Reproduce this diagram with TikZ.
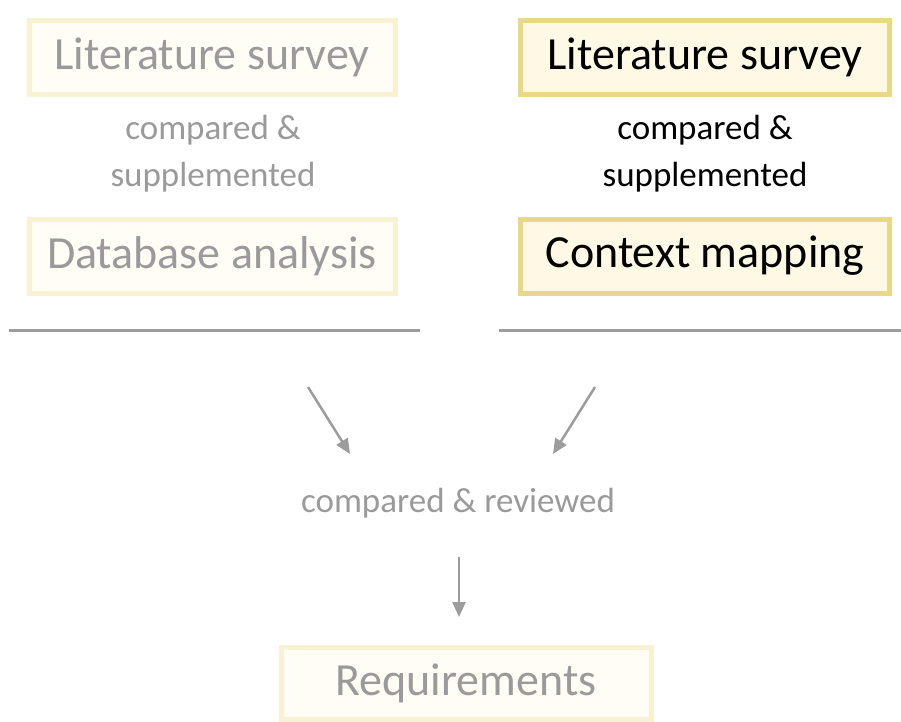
\documentclass[tikz,border=0pt]{standalone}
\usepackage{fontspec}
\setmainfont{Carlito}
\usetikzlibrary{arrows.meta}
\definecolor{goldline}{HTML}{EAD889}
\definecolor{goldfill}{HTML}{FEF9E4}
\definecolor{paleline}{HTML}{F8F1D2}
\definecolor{palefill}{HTML}{FFFDF6}
\definecolor{greytext}{HTML}{9A9A9A}
\definecolor{rulegrey}{HTML}{9C9C9C}
\tikzset{
  x=1pt, y=-1pt,
  activebox/.style={draw=goldline, line width=5pt, fill=goldfill, inner sep=0pt,
    minimum width=369pt, minimum height=74pt, font=\fontsize{46}{50}\selectfont, text=black},
  fadedbox/.style={draw=paleline, line width=5pt, fill=palefill, inner sep=0pt,
    minimum width=366pt, minimum height=74pt, font=\fontsize{46}{50}\selectfont, text=greytext},
  note/.style={align=center, font=\fontsize{35}{47}\selectfont},
  rulebar/.style={draw=rulegrey, line width=3pt},
  flow/.style={draw=rulegrey, line width=2.5pt, -{Triangle[length=15pt,width=13pt]}},
}
\begin{document}
\begin{tikzpicture}
\useasboundingbox (0,0) rectangle (901,721);
% faded left column
\node[fadedbox] (ls1) at (212,57) {Literature survey};
\node[note, text=greytext] (cs1) at (213,154) {compared \&\\supplemented};
\node[fadedbox] (db) at (212,256) {Database analysis};
% highlighted right column
\node[activebox] (ls2) at (705,57) {Literature survey};
\node[note, text=black] (cs2) at (705,154) {compared \&\\supplemented};
\node[activebox] (cm) at (705,256) {Context mapping};
% separators under each column
\coordinate (l1) at (9,330); \coordinate (l2) at (420,330);
\coordinate (r1) at (499,330); \coordinate (r2) at (901,330);
\draw[rulebar] (l1) -- (l2);
\draw[rulebar] (r1) -- (r2);
% merging step
\node[note, text=greytext] (cr) at (458,503) {compared \& reviewed};
\coordinate (a1) at (308,387); \coordinate (a1e) at (350,454);
\coordinate (a2) at (595,387); \coordinate (a2e) at (553,454);
\draw[flow] (a1) -- (a1e);
\draw[flow] (a2) -- (a2e);
\node[fadedbox, minimum width=370pt, minimum height=72pt] (req) at (466,683) {Requirements};
\coordinate (d1) at (459,557); \coordinate (d2) at (459,617);
\draw[flow] (d1) -- (d2);
\end{tikzpicture}
\end{document}
